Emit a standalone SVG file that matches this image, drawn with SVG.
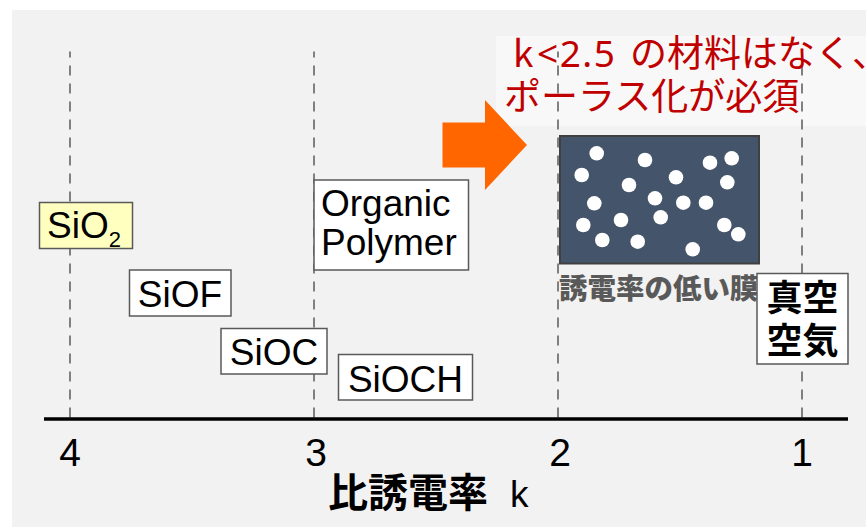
<svg xmlns="http://www.w3.org/2000/svg" width="866" height="527" viewBox="0 0 866 527">
<style>
.grid{stroke:#808080;stroke-width:2;stroke-dasharray:10 8;stroke-dashoffset:4;fill:none}
.box{fill:#ffffff;stroke:#595959;stroke-width:1.5}
.lbl{font-family:"Liberation Sans",Arial,sans-serif;font-size:37px;fill:#000}
.num{font-family:"Liberation Sans",Arial,sans-serif;font-size:39px;fill:#000;text-anchor:middle}
.jp{font-family:"Noto Sans CJK JP","Noto Sans",sans-serif}
.red{font-family:"Noto Sans CJK JP","Noto Sans",sans-serif;font-size:37px;fill:#c00000}
.dot{fill:#ffffff}
</style>
<rect x="0" y="0" width="866" height="527" fill="#ffffff"/>
<rect x="12" y="10" width="854" height="517" fill="#f2f2f2"/>
<rect x="496" y="36" width="370" height="90" fill="#f8f8f8"/>
<g id="connectors">
<line class="grid" x1="70" y1="51.5" x2="70" y2="418"/>
<line class="grid" x1="314" y1="51.5" x2="314" y2="418"/>
<line class="grid" x1="558" y1="51.5" x2="558" y2="418"/>
<line class="grid" x1="802" y1="51.5" x2="802" y2="418"/>
<line x1="44" y1="419" x2="848" y2="419" stroke="#000" stroke-width="3.5"/>
</g>
<g id="note">
<text class="red" y="67"><tspan x="513">k</tspan><tspan x="537" font-family="Noto Sans, sans-serif" letter-spacing="1.5">&lt;2.5</tspan><tspan x="630">の材料はなく、</tspan></text>
<text class="red" x="504" y="110">ポーラス化が必須</text>
</g>
<g id="arrow">
<polygon points="442.5,122.5 485,122.5 485,100 527,145 485,190 485,167.5 442.5,167.5" fill="#ff6600"/>
</g>
<g id="sio2">
<rect x="39.5" y="202.5" width="93" height="46" fill="#ffffc0" stroke="#595959" stroke-width="1.5"/>
<text class="lbl" x="47" y="238">SiO<tspan font-size="22" dy="9">2</tspan></text>
</g>
<g id="siof">
<rect class="box" x="129.5" y="270" width="101.5" height="46"/>
<text class="lbl" x="180" y="306.5" text-anchor="middle">SiOF</text>
</g>
<g id="sioc">
<rect class="box" x="221" y="328.5" width="106" height="45.5"/>
<text class="lbl" x="274" y="365" text-anchor="middle">SiOC</text>
</g>
<g id="sioch">
<rect class="box" x="338.5" y="354.5" width="134" height="45.5"/>
<text class="lbl" x="405.5" y="391.5" text-anchor="middle">SiOCH</text>
</g>
<g id="organic">
<rect class="box" x="314" y="180" width="154.5" height="90"/>
<text class="lbl" x="321" y="215.5">Organic</text>
<text class="lbl" x="321" y="255">Polymer</text>
</g>
<g id="porous">
<rect x="560" y="136" width="199" height="127.5" fill="#44546a" stroke="#404040" stroke-width="2"/>
<circle class="dot" cx="596.7" cy="153.3" r="7.3"/>
<circle class="dot" cx="645" cy="160" r="7.3"/>
<circle class="dot" cx="581.7" cy="175" r="7.3"/>
<circle class="dot" cx="629" cy="185" r="7.3"/>
<circle class="dot" cx="676" cy="177.3" r="7.3"/>
<circle class="dot" cx="710" cy="162.7" r="7.3"/>
<circle class="dot" cx="731.7" cy="158.3" r="7.3"/>
<circle class="dot" cx="727.3" cy="182.3" r="7.3"/>
<circle class="dot" cx="594.3" cy="203.3" r="7.3"/>
<circle class="dot" cx="655" cy="198.3" r="7.3"/>
<circle class="dot" cx="683.3" cy="202.7" r="7.3"/>
<circle class="dot" cx="706" cy="202.7" r="7.3"/>
<circle class="dot" cx="583.3" cy="225" r="7.3"/>
<circle class="dot" cx="621" cy="220" r="7.3"/>
<circle class="dot" cx="660.7" cy="217.3" r="7.3"/>
<circle class="dot" cx="724.3" cy="225" r="7.3"/>
<circle class="dot" cx="738.3" cy="234.3" r="7.3"/>
<circle class="dot" cx="602.3" cy="240" r="7.3"/>
<circle class="dot" cx="637.7" cy="241.7" r="7.3"/>
<circle class="dot" cx="692.7" cy="249.3" r="7.3"/>
<text class="jp" x="559" y="299" font-size="28.5" font-weight="900" fill="#595959">誘電率の低い膜</text>
</g>
<g id="vacuum">
<rect class="box" x="757" y="273.5" width="91" height="90.5"/>
<text class="jp" x="802.5" y="311" font-size="36" font-weight="700" text-anchor="middle" fill="#000">真空</text>
<text class="jp" x="802.5" y="354" font-size="36" font-weight="700" text-anchor="middle" fill="#000">空気</text>
</g>
<g id="axis-labels">
<text class="num" x="70" y="465.5">4</text>
<text class="num" x="316" y="465.5">3</text>
<text class="num" x="560" y="465.5">2</text>
<text class="num" x="802" y="465.5">1</text>
<text class="jp" x="328" y="507" font-size="40" font-weight="700" fill="#000">比誘電率</text>
<text x="510" y="507" font-family="Liberation Sans, Arial, sans-serif" font-size="37" fill="#000">k</text>
</g>
</svg>
